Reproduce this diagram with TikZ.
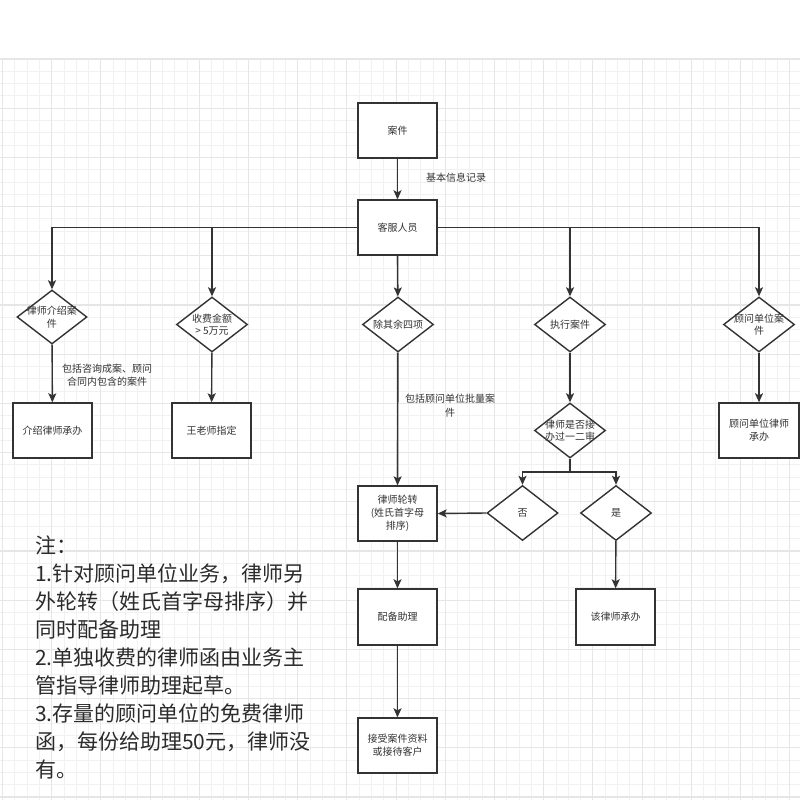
\documentclass[tikz,border=0pt]{standalone}
\usepackage{fontspec}
\setmainfont{Noto Sans CJK SC}
\usetikzlibrary{shapes.geometric,arrows.meta}
\definecolor{ink}{HTML}{333333}
\definecolor{gridminor}{HTML}{F1F1F1}
\definecolor{gridmajor}{HTML}{E6E6E6}
\tikzset{
  box/.style={draw=ink,line width=1.4pt,fill=white,minimum width=79pt,minimum height=55pt,inner sep=0pt,text=ink,font=\fontsize{10}{13}\selectfont,align=center},
  dia/.style={draw=ink,line width=1.4pt,fill=white,shape=diamond,minimum width=71pt,minimum height=55pt,inner sep=0pt},
  dtext/.style={text=ink,font=\fontsize{10}{12.5}\selectfont,align=center,inner sep=0pt},
  elabel/.style={text=ink,font=\fontsize{10}{13.5}\selectfont,align=center,inner sep=0pt},
  arr/.style={draw=ink,line width=1.4pt,-{Stealth[length=9pt,width=8pt,inset=2pt]}},
  conn/.style={draw=ink,line width=1.4pt},
  minorline/.style={draw=gridminor,line width=0.9pt},
  majorline/.style={draw=gridmajor,line width=1.1pt},
}
\begin{document}
\begin{tikzpicture}[x=1pt,y=-1pt]
\useasboundingbox (0,0) rectangle (800,800);
\fill[white] (0,0) rectangle (800,800);
% grid
\foreach \i in {0,...,64} {\draw[minorline] ({2.5+12.3*\i},59) -- ({2.5+12.3*\i},800);}
\foreach \i in {0,...,60} {\draw[minorline] (0,{59+12.3*\i}) -- (800,{59+12.3*\i});}
\foreach \i in {0,...,16} {\draw[majorline] ({2.5+49.2*\i},59) -- ({2.5+49.2*\i},800);}
\foreach \i in {0,...,15} {\draw[majorline] (0,{59+49.2*\i}) -- (800,{59+49.2*\i});}

% boxes
\node[box] (b0) at (397.5,130.5) {案件};
\node[box] (b1) at (397.5,227.5) {客服人员};
\node[box] (b2) at (52.5,430.5) {介绍律师承办};
\node[box] (b3) at (211.5,430.5) {王老师指定};
\node[box,minimum width=80pt] (b4) at (759,430.5) {顾问单位律师\\承办};
\node[box] (b5) at (397.5,513.5) {律师轮转\\(姓氏首字母\\排序)};
\node[box,minimum height=56pt] (b6) at (397.5,617) {配备助理};
\node[box,minimum height=56pt] (b7) at (615.5,617) {该律师承办};
\node[box] (b8) at (397.5,745.5) {接受案件资料\\或接待客户};

% diamonds
\node[dia,minimum width=70pt,minimum height=54pt,label={[dtext]center:律师介绍案\\件}] (d1) at (52,317) {};
\node[dia,label={[dtext]center:收费金额\\> 5万元}] (d2) at (212,324.5) {};
\node[dia,label={[dtext]center:除其余四项}] (d3) at (398,324.5) {};
\node[dia,label={[dtext]center:执行案件}] (d4) at (570,324.5) {};
\node[dia,label={[dtext]center:顾问单位案\\件}] (d5) at (759,324.5) {};
\node[dia,label={[dtext]center:律师是否接\\办过一二审}] (d6) at (570,430.5) {};
\node[dia,label={[dtext]center:否}] (d7) at (522.5,513) {};
\node[dia,label={[dtext]center:是}] (d8) at (616,513) {};

% connectors
\draw[arr] (b0) -- (b1);
\node[elabel] (l0) at (456,178) {基本信息记录};
\draw[arr] (b1.west) -| (d1.north);
\draw[arr] (b1.west) -| (d2.north);
\draw[arr] (b1) -- (d3);
\draw[arr] (b1.east) -| (d4.north);
\draw[arr] (b1.east) -| (d5.north);
\draw[arr] (d1) -- (b2);
\node[elabel] (l1) at (107,375) {包括咨询成案、顾问\\合同内包含的案件};
\draw[arr] (d2) -- (b3);
\draw[arr] (d3) -- (b5);
\node[elabel] (l2) at (450,405.5) {包括顾问单位批量案\\件};
\draw[arr] (d4) -- (d6);
\draw[arr] (d5) -- (b4);
\coordinate (j) at (570,472);
\draw[conn] (d6.south) -- (j);
\draw[arr] (j) -| (d7.north);
\draw[arr] (j) -| (d8.north);
\draw[arr] (d7.west) -- (b5.east);
\draw[arr] (d8) -- (b7);
\draw[arr] (b5) -- (b6);
\draw[arr] (b6) -- (b8);

% note
\node[anchor=north west,inner sep=0pt,align=left,text=ink!85!black,font=\fontsize{21}{28}\selectfont] (note) at (35,536) {注：\\1.针对顾问单位业务，律师另\\外轮转（姓氏首字母排序）并\\同时配备助理\\2.单独收费的律师函由业务主\\管指导律师助理起草。\\3.存量的顾问单位的免费律师\\函，每份给助理50元，律师没\\有。};
\end{tikzpicture}
\end{document}
